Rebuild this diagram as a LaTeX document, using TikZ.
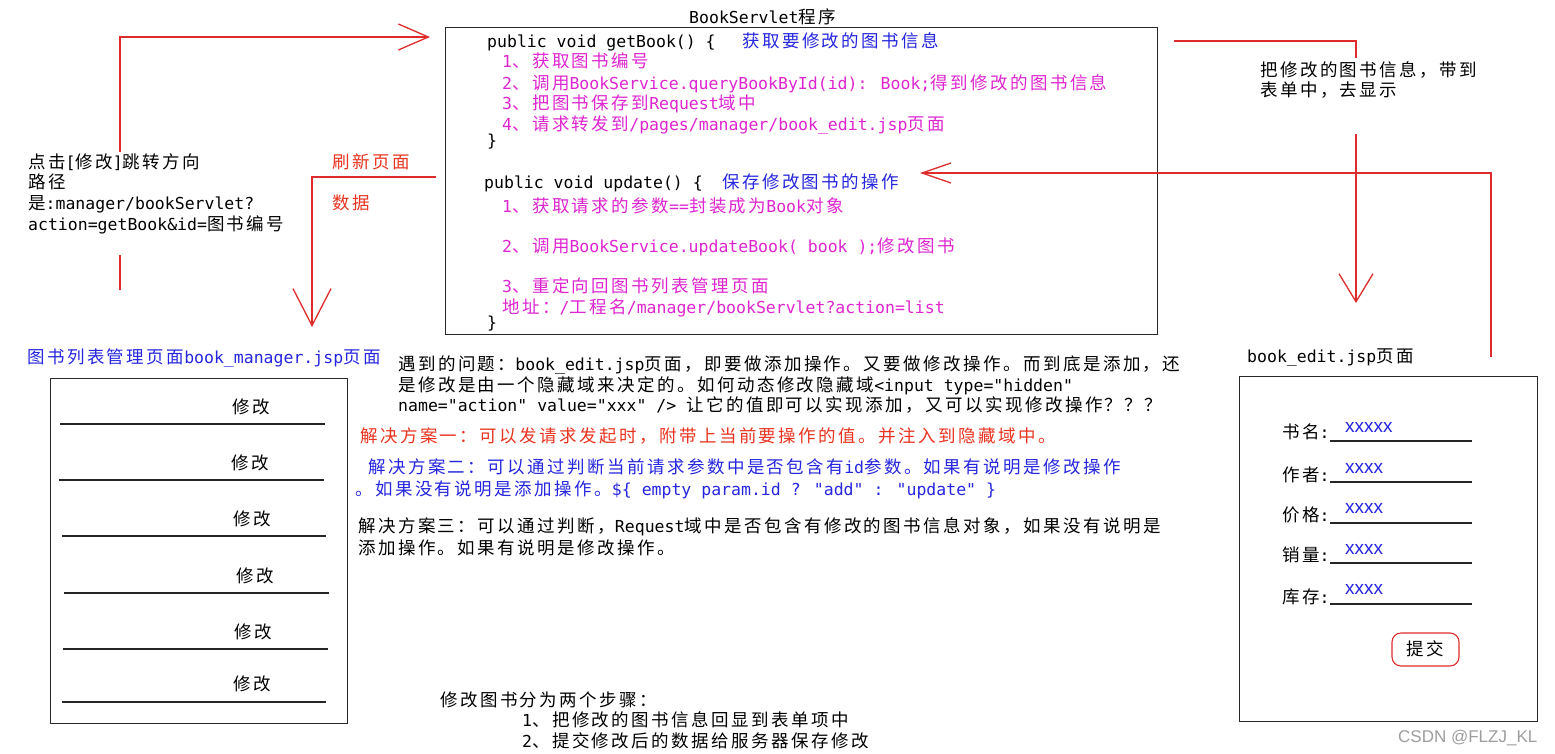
\documentclass[tikz,border=0pt]{standalone}
\usepackage{fontspec}
\setmainfont{DejaVu Sans Mono}
\newfontfamily\latn{DejaVu Sans Mono}
\newfontfamily\cjk[Scale=1.06,LetterSpace=14]{Noto Sans CJK SC}
\newfontfamily\lsans{Liberation Sans}
\usetikzlibrary{arrows.meta}
\XeTeXinterchartokenstate=1
\ifdefined\newXeTeXintercharclass
  \newXeTeXintercharclass\CJKcls
\else
  \chardef\CJKcls=7
\fi
\newcount\cjkcnt
\def\setcjkrange#1#2{\cjkcnt=#1\relax
  \loop\XeTeXcharclass\cjkcnt=\CJKcls\relax
  \ifnum\cjkcnt<#2\advance\cjkcnt by 1\repeat}
\setcjkrange{"3000}{"303F}
\setcjkrange{"4E00}{"9FFF}
\setcjkrange{"FF00}{"FFEF}
\XeTeXinterchartoks 0 \CJKcls = {\cjk}
\XeTeXinterchartoks 4095 \CJKcls = {\cjk}
\XeTeXinterchartoks \CJKcls 0 = {\latn}
\XeTeXinterchartoks \CJKcls 4095 = {\latn}
\definecolor{redline}{RGB}{222,44,44}
\definecolor{redtxt}{RGB}{232,52,32}
\definecolor{mag}{RGB}{222,38,208}
\definecolor{bluetxt}{RGB}{38,38,222}
\definecolor{boxline}{RGB}{40,40,40}
\begin{document}
\begin{tikzpicture}[x=1pt,y=-1pt,
  t/.style={anchor=west,inner sep=0pt,text height=14pt,text depth=2pt,font=\latn\fontsize{16.5}{20}\selectfont},
  boxframe/.style={draw=boxline,line width=1.3pt,inner sep=0pt,anchor=north west},
  rl/.style={draw=redline,line width=1.3pt},
  ul/.style={draw=black!85,line width=1.3pt},
  xs/.style={anchor=base west,inner sep=0pt,text=bluetxt,font=\lsans\fontsize{19}{22}\selectfont}]
\useasboundingbox[fill=white] (0,0) rectangle (1555,754);

% ---------- main servlet box ----------
\node[t] (title) at (689,18) {BookServlet程序};
\node[boxframe,minimum width=712pt,minimum height=307pt] (servlet) at (445,27) {};
\node[t] (g1) at (487,42) {public void getBook() \{};
\node[t,text=bluetxt] (g1b) at (742,42) {获取要修改的图书信息};
\node[t,text=mag] (g2) at (502,62) {1、获取图书编号};
\node[t,text=mag] (g3) at (502,84) {2、调用BookService.queryBookById(id): Book;得到修改的图书信息};
\node[t,text=mag] (g4) at (502,104) {3、把图书保存到Request域中};
\node[t,text=mag] (g5) at (502,125) {4、请求转发到/pages/manager/book\_edit.jsp页面};
\node[t] (g6) at (487,141) {\}};
\node[t] (u1) at (484,183) {public void update() \{};
\node[t,text=bluetxt] (u1b) at (722,183) {保存修改图书的操作};
\node[t,text=mag] (u2) at (502,207) {1、获取请求的参数==封装成为Book对象};
\node[t,text=mag] (u3) at (502,246) {2、调用BookService.updateBook( book );修改图书};
\node[t,text=mag] (u4) at (502,286) {3、重定向回图书列表管理页面};
\node[t,text=mag] (u5) at (502,307) {地址：/工程名/manager/bookServlet?action=list};
\node[t] (u6) at (487,322) {\}};

% ---------- left texts ----------
\node[t] (l1) at (28,163) {点击[修改]跳转方向};
\node[t] (l2) at (28,183) {路径};
\node[t] (l3) at (28,204) {是:manager/bookServlet?};
\node[t] (l4) at (28,224) {action=getBook\&id=图书编号};
\node[t,text=redtxt] (r1) at (332,163) {刷新页面};
\node[t,text=redtxt] (r2) at (332,204) {数据};

% ---------- right texts ----------
\node[t] (rt1) at (1260,71) {把修改的图书信息，带到};
\node[t] (rt2) at (1260,91) {表单中，去显示};

% ---------- book_manager list ----------
\node[t,text=bluetxt] (mtitle) at (27,357) {图书列表管理页面book\_manager.jsp页面};
\node[boxframe,minimum width=297pt,minimum height=345pt] (list) at (50,378) {};
\draw[ul] (60,424) -- (325,424);
\draw[ul] (59,480) -- (324,480);
\draw[ul] (62,536) -- (326,536);
\draw[ul] (64,593) -- (329,593);
\draw[ul] (63,649) -- (328,649);
\draw[ul] (62,702) -- (326,702);
\node[t,anchor=center] (m1) at (251,407) {修改};
\node[t,anchor=center] (m2) at (250,463) {修改};
\node[t,anchor=center] (m3) at (252,519) {修改};
\node[t,anchor=center] (m4) at (255,576) {修改};
\node[t,anchor=center] (m5) at (253,632) {修改};
\node[t,anchor=center] (m6) at (252,684) {修改};

% ---------- problem and solutions ----------
\node[t] (p1) at (398,364) {遇到的问题：book\_edit.jsp页面，即要做添加操作。又要做修改操作。而到底是添加，还};
\node[t] (p2) at (398,385) {是修改是由一个隐藏域来决定的。如何动态修改隐藏域<input type="hidden"};
\node[t] (p3) at (398,405) {name="action" value="xxx" /> 让它的值即可以实现添加，又可以实现修改操作？？？};
\node[t,text=redtxt] (s1) at (360,436) {解决方案一：可以发请求发起时，附带上当前要操作的值。并注入到隐藏域中。};
\node[t,text=bluetxt] (s2a) at (368,467) {解决方案二：可以通过判断当前请求参数中是否包含有id参数。如果有说明是修改操作};
\node[t,text=bluetxt] (s2b) at (355,489) {。如果没有说明是添加操作。\$\{ empty param.id ? "add" : "update" \}};
\node[t] (s3a) at (358,526) {解决方案三：可以通过判断，Request域中是否包含有修改的图书信息对象，如果没有说明是};
\node[t] (s3b) at (358,548) {添加操作。如果有说明是修改操作。};

% ---------- bottom ----------
\node[t] (b1) at (440,700) {修改图书分为两个步骤：};
\node[t] (b2) at (522,720) {1、把修改的图书信息回显到表单项中};
\node[t] (b3) at (522,741) {2、提交修改后的数据给服务器保存修改};

% ---------- book_edit form ----------
\node[t] (etitle) at (1247,356) {book\_edit.jsp页面};
\node[boxframe,minimum width=298pt,minimum height=345pt] (edit) at (1239,376) {};
\node[t] (f1) at (1282,432) {书名:};
\node[t] (f2) at (1282,475) {作者:};
\node[t] (f3) at (1282,515) {价格:};
\node[t] (f4) at (1282,555) {销量:};
\node[t] (f5) at (1282,597) {库存:};
\draw[ul] (1330,441) -- (1472,441);
\draw[ul] (1330,482) -- (1472,482);
\draw[ul] (1330,523) -- (1472,523);
\draw[ul] (1330,563) -- (1472,563);
\draw[ul] (1330,604) -- (1472,604);
\node[xs] (x1) at (1345,432) {xxxxx};
\node[xs] (x2) at (1345,473) {xxxx};
\node[xs] (x3) at (1345,513) {xxxx};
\node[xs] (x4) at (1345,554) {xxxx};
\node[xs] (x5) at (1345,594) {xxxx};
\node[t,anchor=center,draw=redline,line width=1.1pt,rounded corners=9pt,minimum width=67pt,minimum height=33pt,text height=14pt,text depth=2pt] (submit) at (1425.5,649.5) {提交};
\node[anchor=base west,inner sep=0pt,text=black!38,font=\lsans\fontsize{17}{20}\selectfont] (wm) at (1398,742) {CSDN @FLZJ\_KL};

% ---------- red connectors ----------
\coordinate (a1s) at (120,152);
\coordinate (a1e) at (430,37);
\draw[rl,-{Straight Barb[length=30pt,width=26pt]}] (a1s) |- (a1e);
\coordinate (a1t) at (120,255);
\coordinate (a1b) at (120,290);
\draw[rl] (a1t) -- (a1b);

\coordinate (a2s) at (436,177);
\coordinate (a2e) at (312,327);
\draw[rl,-{Straight Barb[length=37pt,width=38pt]}] (a2s) -| (a2e);

\coordinate (a3s) at (1174,41);
\coordinate (a3m) at (1356,58);
\draw[rl] (a3s) -| (a3m);
\coordinate (a3t) at (1356,134);
\coordinate (a3e) at (1356,303);
\draw[rl,-{Straight Barb[length=28pt,width=34pt]}] (a3t) -- (a3e);

\coordinate (a4s) at (1491,357);
\coordinate (a4e) at (920,173);
\draw[rl,-{Straight Barb[length=29pt,width=20pt]}] (a4s) |- (a4e);
\end{tikzpicture}
\end{document}
